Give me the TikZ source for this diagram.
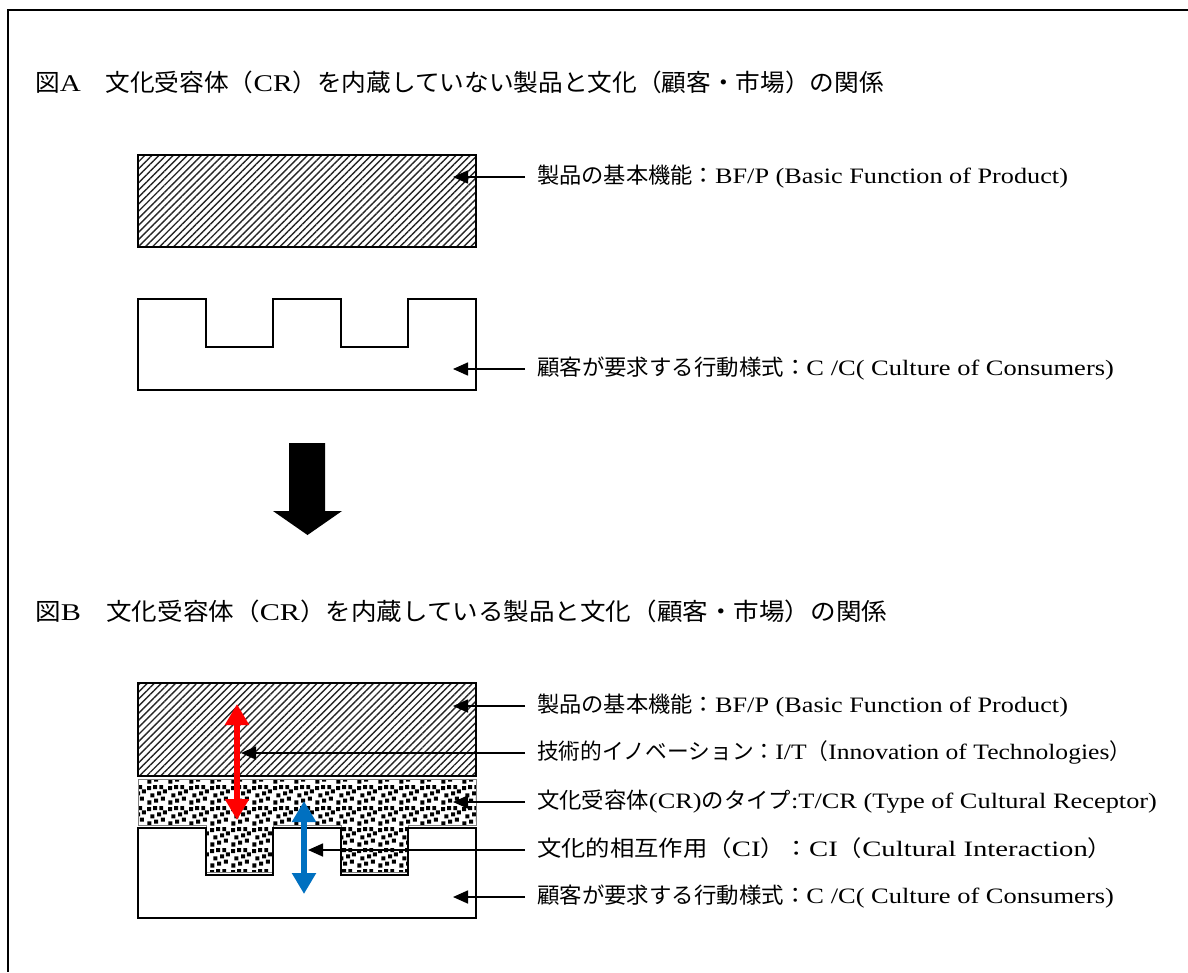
\documentclass[tikz,border=0pt]{standalone}
\usepackage{fontspec}
\setmainfont{Liberation Serif}[FakeStretch=1.18]
\newfontfamily\cjk{Noto Sans CJK JP}
\usetikzlibrary{arrows.meta,patterns.meta}
\newcommand{\J}[1]{{\cjk #1}}
\newcommand{\SX}[2]{\scalebox{#1}[1]{#2}}
\definecolor{cblue}{HTML}{0070C0}
\tikzdeclarepattern{
  name=specks,
  type=uncolored,
  bounding box={(0pt,0pt) and (21pt,21pt)},
  tile size={(21pt,21pt)},
  code={
    \fill (0.5pt,0.5pt) rectangle ++(4.2pt,4.2pt);
    \fill (7.5pt,2.5pt) rectangle ++(4.2pt,4.2pt);
    \fill (14.5pt,4.5pt) rectangle ++(4.2pt,4.2pt);
    \fill (3.5pt,8pt) rectangle ++(4.2pt,4.2pt);
    \fill (10.5pt,10pt) rectangle ++(4.2pt,4.2pt);
    \fill (16.5pt,12pt) rectangle ++(4.2pt,4.2pt);
    \fill (0pt,15.5pt) rectangle ++(4.2pt,4.2pt);
    \fill (6.5pt,16.5pt) rectangle ++(4.2pt,4.2pt);
    \fill (13pt,16.5pt) rectangle ++(3.8pt,4.2pt);
  }
}
\begin{document}
\begin{tikzpicture}[x=1pt,y=-1pt,
  leader/.style={-{Triangle[length=15pt,width=13pt]},line width=1.6pt},
  lbl/.style={anchor=west,inner sep=0pt,font=\fontsize{22}{26}\selectfont,text height=17pt,text depth=4pt},
  ttl/.style={anchor=west,inner sep=0pt,font=\fontsize{24}{28}\selectfont,text height=19pt,text depth=5pt},
  hatch/.style={pattern={Lines[angle=45,distance=5pt,line width=1.4pt]},pattern color=black!85},
  outline/.style={line width=1.8pt,line join=miter},
  dbl/.style={{Triangle[length=21pt,width=23pt]}-{Triangle[length=21pt,width=23pt]},line width=5.5pt}
]
\useasboundingbox (0,0) rectangle (1188,972);
% frame
\draw[line width=2.2pt] (1188,10) -- (8,10) -- (8,972);

% ---------- Figure A ----------
\node[ttl] (ta) at (35,84) {\SX{1.028}{\J{図}A\J{　文化受容体（}CR\J{）を内蔵していない製品と文化（顧客・市場）の関係}}};

\draw[hatch,line width=2pt] (138,155) rectangle (476,247);
\draw[outline] (138,299) -- (206,299) -- (206,347) -- (273,347) -- (273,299) -- (341,299) -- (341,347) -- (408,347) -- (408,299) -- (476,299) -- (476,390) -- (138,390) -- cycle;

\coordinate (tA1) at (453,177);
\coordinate (tA2) at (453,369);
\node[lbl] (lA1) at (537,177) {\SX{1.011}{\J{製品の基本機能：}BF/P (Basic Function of Product)}};
\node[lbl] (lA2) at (537,369) {\SX{1.02}{\J{顧客が要求する行動様式：}C /C( Culture of Consumers)}};
\draw[leader] ([xshift=-12pt]lA1.west) -- (tA1);
\draw[leader] ([xshift=-12pt]lA2.west) -- (tA2);

% big arrow
\fill (289,443) -- (325,443) -- (325,511) -- (342,511) -- (307.5,535) -- (273,511) -- (289,511) -- cycle;

% ---------- Figure B ----------
\node[ttl] (tb) at (35,613) {\SX{1.065}{\J{図}B\J{　文化受容体（}CR\J{）を内蔵している製品と文化（顧客・市場）の関係}}};

\draw[hatch,line width=2pt] (138,683) rectangle (476,776);
\draw[draw=gray,line width=1pt,preaction={fill=white},pattern=specks,pattern color=black]
  (138,779) -- (476,779) -- (476,825) -- (408,825) -- (408,872) -- (341,872) -- (341,825) -- (273,825) -- (273,872) -- (206,872) -- (206,825) -- (138,825) -- cycle;
\draw[outline] (138,828) -- (206,828) -- (206,875) -- (273,875) -- (273,828) -- (341,828) -- (341,875) -- (408,875) -- (408,828) -- (476,828) -- (476,918) -- (138,918) -- cycle;

\coordinate (r1) at (237,704);
\coordinate (r2) at (237,820);
\coordinate (b1) at (304,801);
\coordinate (b2) at (304,894);
\draw[dbl,red] (r1) -- (r2);
\draw[dbl,cblue] (b1) -- (b2);

\coordinate (tB1) at (453,706);
\coordinate (tB2) at (241,753);
\coordinate (tB3) at (453,802);
\coordinate (tB4) at (308,850);
\coordinate (tB5) at (453,897);
\node[lbl] (lB1) at (537,706) {\SX{1.011}{\J{製品の基本機能：}BF/P (Basic Function of Product)}};
\node[lbl] (lB2) at (537,753) {\SX{0.986}{\J{技術的イノベーション：}I/T\J{（}Innovation of Technologies\J{）}}};
\node[lbl] (lB3) at (537,802) {\SX{1.016}{\J{文化受容体}(CR)\J{のタイプ}:T/CR (Type of Cultural Receptor)}};
\node[lbl] (lB4) at (537,850) {\SX{1.106}{\J{文化的相互作用（}CI\J{）：}CI\J{（}Cultural Interaction\J{）}}};
\node[lbl] (lB5) at (537,897) {\SX{1.02}{\J{顧客が要求する行動様式：}C /C( Culture of Consumers)}};
\foreach \i in {1,...,5}{\draw[leader] ([xshift=-12pt]lB\i.west) -- (tB\i);}
\end{tikzpicture}
\end{document}
